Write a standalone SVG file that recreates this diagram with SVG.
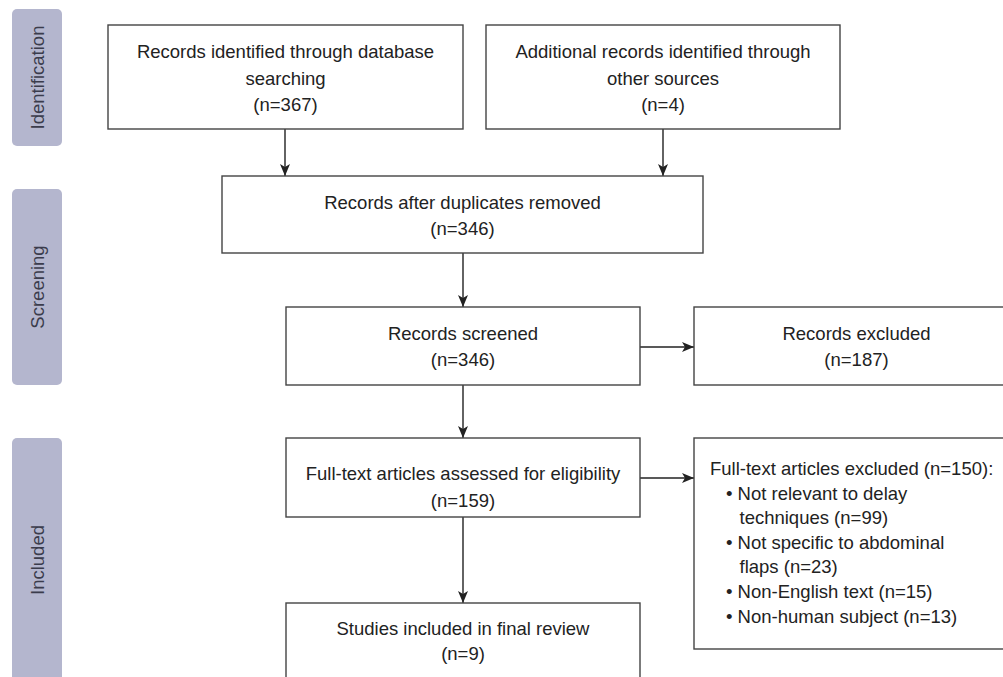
<svg xmlns="http://www.w3.org/2000/svg" width="1003" height="677" viewBox="0 0 1003 677">
<style>
.box{fill:#fff;stroke:#444;stroke-width:1.4}
.phase{fill:#b4b6ce}
.t{font-family:"Liberation Sans",Arial,sans-serif;font-size:18.5px;fill:#222;text-anchor:middle}
.tl{font-family:"Liberation Sans",Arial,sans-serif;font-size:18.5px;fill:#222}
.ph{font-family:"Liberation Sans",Arial,sans-serif;font-size:18.5px;fill:#3b3c4c;text-anchor:middle}
.c{stroke:#222;stroke-width:1.4;fill:none}
</style>
<defs>
<marker id="ah" viewBox="0 0 12 10" refX="12" refY="5" markerWidth="12" markerHeight="10" markerUnits="userSpaceOnUse" orient="auto">
<path d="M0,0 L12,5 L0,10 L3,5 Z" fill="#222"/>
</marker>
</defs>
<rect width="1003" height="677" fill="#fff"/>
<g id="phase-identification">
<rect class="phase" x="12" y="9" width="50" height="137" rx="5"/>
<text class="ph" transform="translate(44,77.5) rotate(-90)">Identification</text>
</g>
<g id="phase-screening">
<rect class="phase" x="12" y="189" width="50" height="196" rx="5"/>
<text class="ph" transform="translate(44,287) rotate(-90)">Screening</text>
</g>
<g id="phase-included">
<rect class="phase" x="12" y="438" width="50" height="244" rx="5"/>
<text class="ph" transform="translate(44,560) rotate(-90)">Included</text>
</g>
<g id="connectors">
<line class="c" x1="285" y1="129" x2="285" y2="176" marker-end="url(#ah)"/>
<line class="c" x1="663" y1="129" x2="663" y2="176" marker-end="url(#ah)"/>
<line class="c" x1="463" y1="253" x2="463" y2="307" marker-end="url(#ah)"/>
<line class="c" x1="640" y1="347" x2="694" y2="347" marker-end="url(#ah)"/>
<line class="c" x1="463" y1="385" x2="463" y2="438" marker-end="url(#ah)"/>
<line class="c" x1="640" y1="478" x2="694" y2="478" marker-end="url(#ah)"/>
<line class="c" x1="463" y1="517" x2="463" y2="603" marker-end="url(#ah)"/>
</g>
<g id="n-database">
<rect class="box" x="108" y="25" width="355" height="104"/>
<text class="t" x="285.5" y="58">Records identified through database</text>
<text class="t" x="285.5" y="84.5">searching</text>
<text class="t" x="285.5" y="111">(n=367)</text>
</g>
<g id="n-other">
<rect class="box" x="486" y="25" width="354" height="104"/>
<text class="t" x="663" y="58">Additional records identified through</text>
<text class="t" x="663" y="84.5">other sources</text>
<text class="t" x="663" y="111">(n=4)</text>
</g>
<g id="n-dupes">
<rect class="box" x="222" y="176" width="481" height="77"/>
<text class="t" x="462.5" y="208.5">Records after duplicates removed</text>
<text class="t" x="462.5" y="235">(n=346)</text>
</g>
<g id="n-screened">
<rect class="box" x="286" y="307" width="354" height="78"/>
<text class="t" x="463" y="339.5">Records screened</text>
<text class="t" x="463" y="366">(n=346)</text>
</g>
<g id="n-excluded">
<rect class="box" x="694" y="307" width="325" height="78"/>
<text class="t" x="856.5" y="339.5">Records excluded</text>
<text class="t" x="856.5" y="366">(n=187)</text>
</g>
<g id="n-fulltext">
<rect class="box" x="286" y="438" width="354" height="79"/>
<text class="t" x="463" y="480">Full-text articles assessed for eligibility</text>
<text class="t" x="463" y="506.5">(n=159)</text>
</g>
<g id="n-ft-excluded">
<rect class="box" x="694" y="438" width="325" height="211"/>
<text class="tl" x="710" y="475">Full-text articles excluded (n=150):</text>
<text class="tl" x="726" y="499.5">• Not relevant to delay</text>
<text class="tl" x="739.5" y="524">techniques (n=99)</text>
<text class="tl" x="726" y="548.5">• Not specific to abdominal</text>
<text class="tl" x="739.5" y="573">flaps (n=23)</text>
<text class="tl" x="726" y="598">• Non-English text (n=15)</text>
<text class="tl" x="726" y="623">• Non-human subject (n=13)</text>
</g>
<g id="n-included">
<rect class="box" x="286" y="603" width="354" height="90"/>
<text class="t" x="463" y="634.5">Studies included in final review</text>
<text class="t" x="463" y="660">(n=9)</text>
</g>
</svg>
